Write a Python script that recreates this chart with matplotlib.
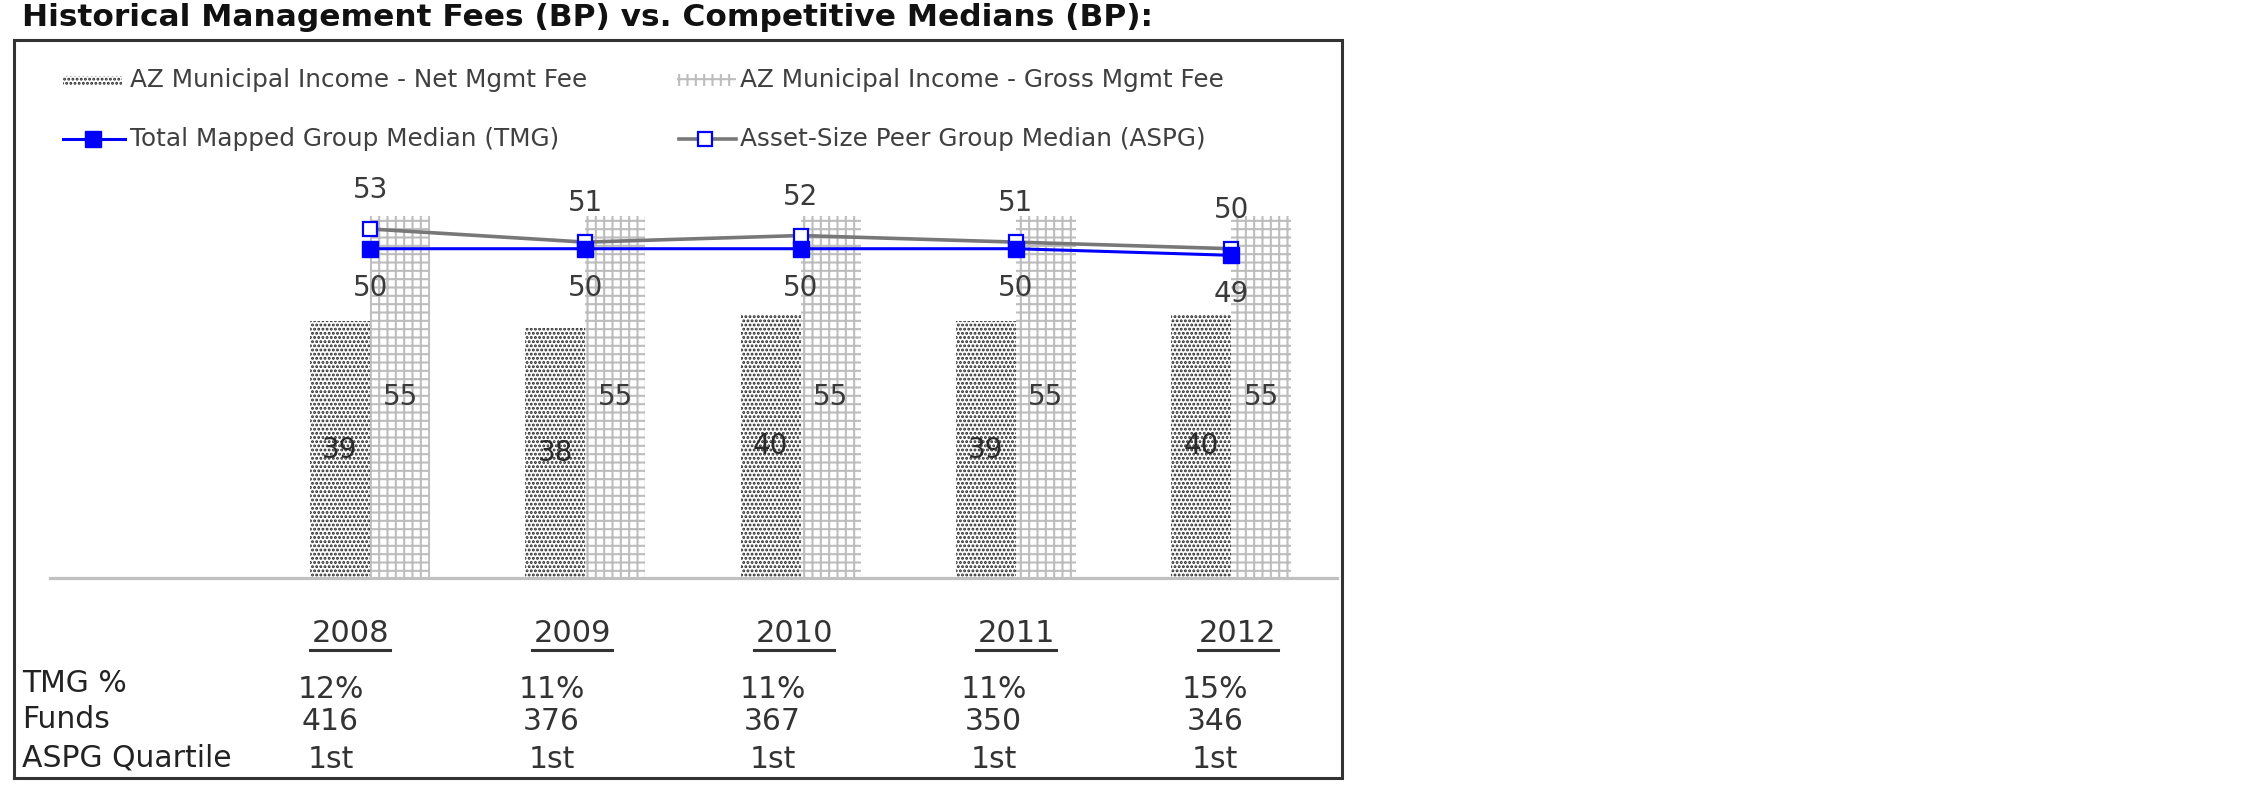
import matplotlib
matplotlib.use('Agg')
import matplotlib.pyplot as plt
from matplotlib.patches import Rectangle
from matplotlib.lines import Line2D
from matplotlib.transforms import blended_transform_factory

# data
years = ['2008', '2009', '2010', '2011', '2012']
net_fee = [39, 38, 40, 39, 40]
gross_fee = [55, 55, 55, 55, 55]
tmg_median = [50, 50, 50, 50, 49]
aspg_median = [53, 51, 52, 51, 50]
tmg_pct = ['12%', '11%', '11%', '11%', '15%']
funds = ['416', '376', '367', '350', '346']
aspg_quartile = ['1st', '1st', '1st', '1st', '1st']
row_labels = ['TMG %', 'Funds', 'ASPG Quartile']

W, H = 2250, 796


def fx(x):
    return x / W


def fy(y):
    return 1 - y / H


plt.rcParams['font.family'] = 'DejaVu Sans'

fig = plt.figure(figsize=(22.5, 7.96), dpi=100)
ax = fig.add_axes([fx(50), fy(578), fx(1337) - fx(50), fy(117) - fy(578)])
ax.set_facecolor('none')

xs = list(range(len(years)))
w = 0.279
NET_HATCH = '....'
NET_COLOR = '#262626'
GROSS_HATCH = '++'
GROSS_COLOR = '#bdbdbd'

with plt.rc_context({'hatch.linewidth': 1.4}):
    ax.bar([i - w / 2 for i in xs], net_fee, w, color='white', edgecolor=NET_COLOR,
           hatch=NET_HATCH, linewidth=0, zorder=2)
    net_leg = Rectangle((fx(63), fy(86)), fx(122) - fx(63), 10 / H, transform=fig.transFigure,
                        facecolor='white', edgecolor=NET_COLOR, hatch=NET_HATCH, linewidth=0)
with plt.rc_context({'hatch.linewidth': 1.5}):
    ax.bar([i + w / 2 for i in xs], gross_fee, w, color='white', edgecolor=GROSS_COLOR,
           hatch=GROSS_HATCH, linewidth=0, zorder=2)
    gross_leg = Rectangle((fx(677), fy(86)), fx(736) - fx(677), 12 / H, transform=fig.transFigure,
                          facecolor='white', edgecolor=GROSS_COLOR, hatch=GROSS_HATCH, linewidth=0)

ax.plot(xs, aspg_median, color='#787878', lw=2.6, marker='s', ms=10,
        mfc='white', mec='#0000ff', mew=1.6, zorder=4)
ax.plot(xs, tmg_median, color='#0000ff', lw=2.2, marker='s', ms=12,
        mfc='#0000ff', mec='#0000ff', zorder=5)

lab = dict(ha='center', va='center', fontsize=20, color='#3a3a3a')
for i in xs:
    ax.annotate(str(aspg_median[i]), (i, aspg_median[i]), xytext=(0, 28),
                textcoords='offset points', zorder=6, **lab)
    ax.annotate(str(tmg_median[i]), (i, tmg_median[i]), xytext=(0, -28),
                textcoords='offset points', zorder=6, **lab)
    ax.text(i - w / 2, net_fee[i] / 2, str(net_fee[i]), zorder=6,
            **dict(lab, color='#2a2a2a'))
    ax.text(i + w / 2, gross_fee[i] / 2, str(gross_fee[i]), zorder=6, **lab)

ax.set_xlim(-1.487, 4.492)
ax.set_ylim(0, 70)
ax.set_xticks([])
ax.set_yticks([])
for s in ['top', 'left', 'right']:
    ax.spines[s].set_visible(False)
ax.spines['bottom'].set_color('#c0c0c0')
ax.spines['bottom'].set_linewidth(2.3)

# year labels (underlined) and the small table under the axis
tr = blended_transform_factory(ax.transData, fig.transFigure)
ul = 0.186
for i in xs:
    xy = 1.97 + (i - 2) * 1.031
    xt = 1.87 + (i - 2) * 1.027
    ax.text(xy, fy(634), years[i], transform=tr,
            ha='center', va='center', fontsize=22, color='#333333')
    ax.add_line(Line2D([xy - ul, xy + ul], [fy(650)] * 2, transform=tr,
                       color='#333333', lw=2.2, clip_on=False))
    ax.text(xt, fy(689), tmg_pct[i], transform=tr, ha='center', va='center',
            fontsize=21.5, color='#333333')
    ax.text(xt, fy(722), funds[i], transform=tr, ha='center', va='center',
            fontsize=21.5, color='#333333')
    ax.text(xt, fy(760), aspg_quartile[i], transform=tr, ha='center', va='center',
            fontsize=21.5, color='#333333')

for lbl, y in zip(row_labels, [683, 720, 758]):
    fig.text(fx(22), fy(y), lbl, ha='left', va='center', fontsize=21.5, color='#222222')

# legend, drawn by hand
leg_txt = dict(ha='left', va='center', fontsize=17.8, color='#404040')
fig.add_artist(net_leg)
fig.text(fx(130), fy(80), 'AZ Municipal Income - Net Mgmt Fee', **leg_txt)
fig.add_artist(gross_leg)
fig.text(fx(740), fy(80), 'AZ Municipal Income - Gross Mgmt Fee', **leg_txt)

fig.add_artist(Line2D([fx(63), fx(93), fx(125)], [fy(139)] * 3, transform=fig.transFigure,
                      color='#0000ff', lw=2.2, marker='s', ms=12, mfc='#0000ff', mec='#0000ff',
                      markevery=[1]))
fig.text(fx(130), fy(139), 'Total Mapped Group Median (TMG)', **leg_txt)
fig.add_artist(Line2D([fx(679), fx(705), fx(736)], [fy(139)] * 3, transform=fig.transFigure,
                      color='#787878', lw=2.6, marker='s', ms=10, mfc='white', mec='#0000ff',
                      mew=1.6, markevery=[1]))
fig.text(fx(740), fy(139), 'Asset-Size Peer Group Median (ASPG)', **leg_txt)

# title and frame
fig.text(fx(22), fy(18), 'Historical Management Fees (BP) vs. Competitive Medians (BP):',
         ha='left', va='center', fontsize=22.5, fontweight='bold', color='#111111')
fig.add_artist(Rectangle((fx(14), fy(778)), fx(1342) - fx(14), (778 - 40) / H,
                         transform=fig.transFigure, fill=False, edgecolor='#333333', lw=2.2))

fig.savefig('out.png', dpi=100)
